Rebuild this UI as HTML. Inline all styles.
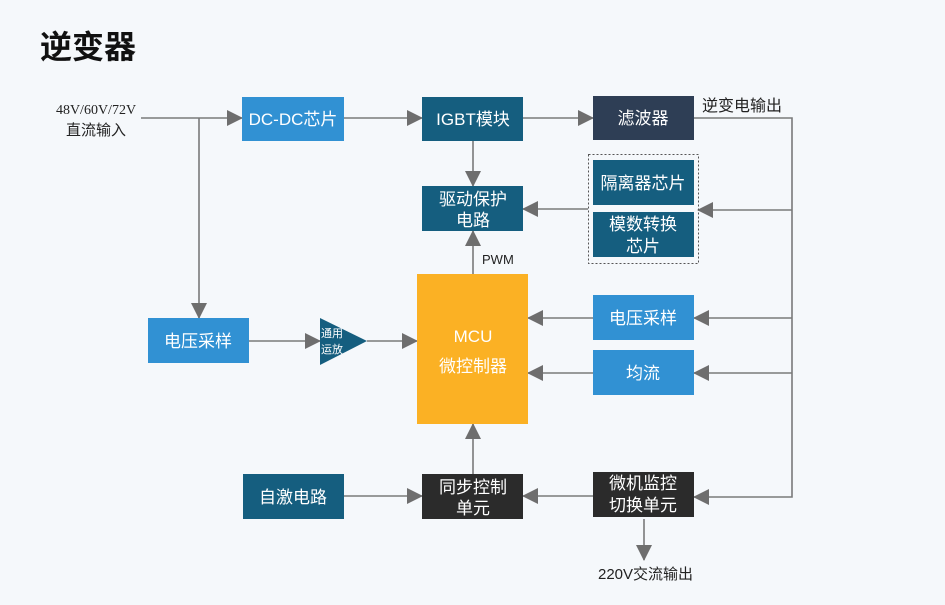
<!DOCTYPE html>
<html><head><meta charset="utf-8"><style>
html,body{margin:0;padding:0;background:#f5f8fb;}
svg{display:block;font-family:"Liberation Sans","Noto Sans CJK SC",sans-serif;}
.w{fill:#fff;font-size:17px;text-anchor:middle;}
.l{stroke:#7a7a7a;stroke-width:1.6;fill:none;}
</style></head><body>
<svg width="945" height="605" viewBox="0 0 945 605">
<defs><marker id="a" markerWidth="10" markerHeight="10" refX="9" refY="5" orient="auto" markerUnits="userSpaceOnUse" viewBox="0 0 10 10"><path d="M0,0 L10,5 L0,10z" fill="#6e6e6e"/></marker>
<marker id="b" markerWidth="16" markerHeight="16" refX="15" refY="8" orient="auto" markerUnits="userSpaceOnUse" viewBox="0 0 16 16"><path d="M0,0 L16,8 L0,16z" fill="#6e6e6e"/></marker></defs>
<rect width="945" height="605" fill="#f5f8fb"/>
<text x="40" y="58" font-size="32" font-weight="bold" fill="#111">逆变器</text>
<text x="96" y="114" font-size="14" text-anchor="middle" fill="#222" font-family="Liberation Serif,serif">48V/60V/72V</text>
<text x="96" y="135" font-size="15" text-anchor="middle" fill="#222">直流输入</text>
<!-- lines -->
<path class="l" d="M141,118 H242" marker-end="url(#b)"/>
<path class="l" d="M199,118 V318" marker-end="url(#b)"/>
<path class="l" d="M344,118 H422" marker-end="url(#b)"/>
<path class="l" d="M523,118 H593" marker-end="url(#b)"/>
<path class="l" d="M473,141 V186" marker-end="url(#b)"/>
<path class="l" d="M694,118 H792 V497 H694" marker-end="url(#b)"/>
<path class="l" d="M792,210 H698" marker-end="url(#b)"/>
<path class="l" d="M588,209 H523" marker-end="url(#b)"/>
<path class="l" d="M473,274 V231" marker-end="url(#b)"/>
<path class="l" d="M792,318 H694" marker-end="url(#b)"/>
<path class="l" d="M792,373 H694" marker-end="url(#b)"/>
<path class="l" d="M593,318 H528" marker-end="url(#b)"/>
<path class="l" d="M593,373 H528" marker-end="url(#b)"/>
<path class="l" d="M249,341 H320" marker-end="url(#b)"/>
<path class="l" d="M367,341 H417" marker-end="url(#b)"/>
<path class="l" d="M344,496 H422" marker-end="url(#b)"/>
<path class="l" d="M593,496 H523" marker-end="url(#b)"/>
<path class="l" d="M473,474 V424" marker-end="url(#b)"/>
<path class="l" d="M644,519 V560" marker-end="url(#b)"/>
<!-- boxes -->
<rect x="242" y="97" width="102" height="44" fill="#3191d3"/><text class="w" x="293" y="125">DC-DC芯片</text>
<rect x="422" y="97" width="101" height="44" fill="#155e7f"/><text class="w" x="473" y="125">IGBT模块</text>
<rect x="593" y="96" width="101" height="44" fill="#2e3e55"/><text class="w" x="643" y="124">滤波器</text>
<text x="702" y="111" font-size="16" fill="#222">逆变电输出</text>
<rect x="422" y="186" width="101" height="45" fill="#155e7f"/><text class="w" x="473" y="205">驱动保护</text><text class="w" x="473" y="226">电路</text>
<rect x="588.5" y="154.5" width="110" height="109" fill="none" stroke="#555" stroke-dasharray="2,2"/>
<rect x="593" y="160" width="101" height="45" fill="#155e7f"/><text class="w" x="643" y="189">隔离器芯片</text>
<rect x="593" y="212" width="101" height="45" fill="#155e7f"/><text class="w" x="643" y="230">模数转换</text><text class="w" x="643" y="252">芯片</text>
<text x="482" y="264" font-size="13" fill="#222">PWM</text>
<rect x="417" y="274" width="111" height="150" fill="#fbb124"/>
<text class="w" x="473" y="342" font-size="22">MCU</text><text class="w" x="473" y="372" font-size="21">微控制器</text>
<rect x="593" y="295" width="101" height="45" fill="#3191d3"/><text class="w" x="643" y="324">电压采样</text>
<rect x="593" y="350" width="101" height="45" fill="#3191d3"/><text class="w" x="643" y="379">均流</text>
<rect x="148" y="318" width="101" height="45" fill="#3191d3"/><text class="w" x="198" y="347">电压采样</text>
<path d="M320,318 L367,341 L320,365z" fill="#155e7f"/>
<text x="321" y="337" font-size="11" fill="#fff">通用</text><text x="321" y="353" font-size="11" fill="#fff">运放</text>
<rect x="243" y="474" width="101" height="45" fill="#155e7f"/><text class="w" x="293" y="503">自激电路</text>
<rect x="422" y="474" width="101" height="45" fill="#2b2b2b"/><text class="w" x="473" y="493">同步控制</text><text class="w" x="473" y="514">单元</text>
<rect x="593" y="472" width="101" height="45" fill="#2b2b2b"/><text class="w" x="643" y="489">微机监控</text><text class="w" x="643" y="511">切换单元</text>
<text x="598" y="579" font-size="15" fill="#222">220V交流输出</text>
</svg>
</body></html>
